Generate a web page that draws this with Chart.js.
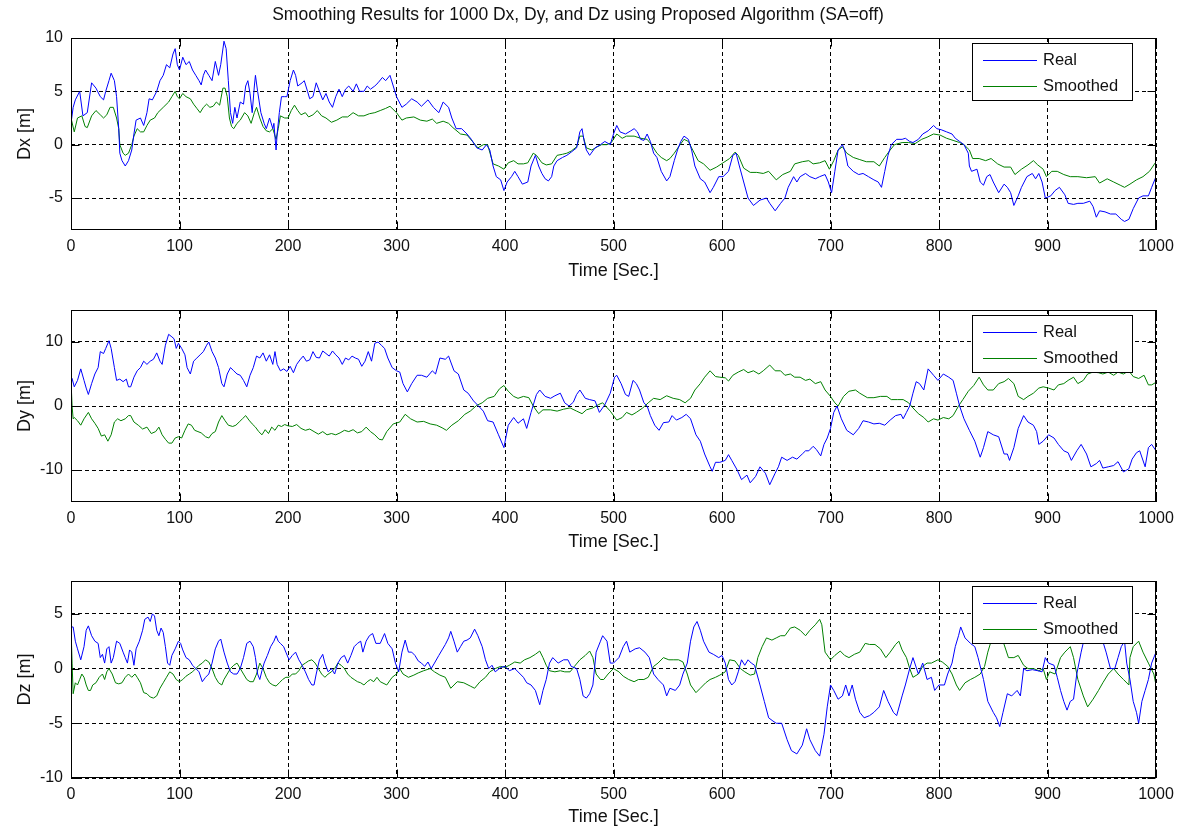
<!DOCTYPE html>
<html>
<head>
<meta charset="utf-8">
<script src="https://cdn.jsdelivr.net/npm/chart.js@4.4.1/dist/chart.umd.min.js"></script>
<style>
  body { margin: 0; background: #fff; }
  canvas { position: absolute; left: 0; }
</style>
</head>
<body>
<canvas id="c1" width="1177" height="290" style="top:0px"></canvas>
<canvas id="c2" width="1177" height="270" style="top:290px"></canvas>
<canvas id="c3" width="1177" height="268" style="top:560px"></canvas>
<script>
// ---------------------------------- data (time [s], value [m]) ----------------------------------
var xTicks = [0, 100, 200, 300, 400, 500, 600, 700, 800, 900, 1000];
var dxTicks = [-5, 0, 5, 10];
var dyTicks = [-10, 0, 10];
var dzTicks = [-10, -5, 0, 5];

var dxReal = [[0,2],[2,3.5],[4,4.2],[8,5],[11,2.7],[15,3],[19,5.8],[23,5.3],[27,4.5],[30,4.2],[32,5],[35,6],[37,6.7],[40,6],[42,4.5],[44,1.5],[45,-0.8],[47,-1.5],[50,-2],[53,-1.5],[56,-0.5],[58,1],[60,2.3],[64,2.5],[67,1.8],[70,3],[72,4.3],[75,4.2],[79,5],[82,6],[85,6.5],[88,7.5],[91,7.2],[94,8.5],[96,9],[98,7.5],[100,7],[103,8.2],[106,7.5],[109,7.8],[112,7],[115,6.5],[118,6],[120,5.6],[122,6.5],[124,7],[127,6.5],[130,6],[133,7.8],[136,6.5],[138,7.5],[141,9.7],[143,9],[145,6],[147,3],[149,2],[151,3.5],[153,2.5],[156,4],[159,3.8],[161,5.5],[163,6],[165,4.8],[167,3],[169,5.5],[170,6.5],[172,5],[175,3],[178,2],[180,1.5],[183,2.5],[186,1.5],[187,2],[189,-0.5],[190,1],[192,3],[194,4.5],[197,4.5],[199,4.5],[202,6],[205,7],[207,6.5],[209,5.5],[213,5.8],[215,6],[218,5],[220,4.3],[223,4.5],[226,5.8],[229,5],[232,4.2],[235,4.8],[238,4],[241,3.5],[244,4.5],[247,5.2],[250,4.5],[253,5.2],[256,5.5],[260,5],[263,5.7],[266,5],[270,5],[273,5.5],[276,5.2],[280,5.5],[283,5.8],[287,6.3],[290,6],[294,6.5],[297,5.5],[300,4.5],[305,3.5],[309,3.8],[314,4.3],[319,4],[323,3.6],[329,4.2],[334,3.5],[339,3],[343,4],[348,3.5],[351,2.5],[355,1.5],[360,1.5],[365,1],[369,0.5],[374,-0.3],[379,-0.5],[383,0],[386,-0.5],[389,-2],[392,-3],[396,-3.3],[399,-4.3],[402,-3.5],[406,-3],[409,-2.5],[412,-3],[416,-3.7],[421,-3.5],[424,-2],[428,-1],[431,-2],[434,-2.7],[437,-3.2],[440,-3.4],[443,-3],[445,-2],[448,-1.5],[453,-1.2],[457,-1],[461,-0.7],[466,-0.3],[469,1.2],[471,1.5],[473,0.3],[475,-0.5],[478,-1],[483,-0.3],[488,0],[492,0.3],[497,0],[500,1],[503,1.8],[506,1.2],[511,1],[516,1.3],[519,1.5],[522,1.2],[525,0.5],[528,0.4],[531,1],[534,0.3],[537,-0.8],[540,-1.2],[544,-2.5],[549,-3.4],[552,-3],[556,-1.5],[559,-0.5],[562,0.3],[565,0.8],[569,0.5],[572,-0.5],[575,-2],[580,-3.2],[584,-3.5],[589,-4.5],[592,-4],[597,-3],[601,-3],[606,-2.5],[610,-1],[613,-0.8],[616,-2],[620,-3.5],[624,-5],[629,-5.7],[635,-5.2],[641,-5],[644,-5.5],[649,-6.2],[654,-5.5],[658,-5],[661,-4],[666,-3],[669,-3.5],[672,-3],[677,-2.7],[681,-3],[686,-3.2],[690,-3],[695,-2.8],[698,-3.5],[701,-4.5],[704,-2.5],[707,-0.5],[711,0],[713,-0.5],[716,-2],[721,-2.5],[726,-2.8],[730,-2.7],[735,-3],[740,-3.3],[744,-3.5],[747,-4],[750,-2.5],[753,-1],[756,0],[761,0.5],[766,0.5],[769,0.6],[773,0.3],[776,0.2],[781,0.5],[785,1],[790,1.3],[795,1.8],[798,1.5],[802,1.4],[807,1.2],[812,1],[815,0.6],[819,0.3],[823,0],[827,-0.8],[828,-2],[830,-2.5],[835,-2.3],[838,-3.5],[841,-3.8],[844,-3],[847,-2.8],[850,-3.5],[855,-4.5],[860,-3.7],[863,-4],[866,-4.5],[869,-5.7],[873,-4.8],[876,-4],[881,-3],[886,-2.7],[889,-3.2],[892,-2.7],[895,-3.5],[898,-5],[903,-4.8],[907,-4.3],[911,-4],[916,-4.7],[919,-5.5],[924,-5.6],[928,-5.5],[933,-5.5],[939,-5.3],[942,-5.8],[945,-6.8],[948,-6.2],[953,-6.3],[958,-6.5],[963,-6.5],[968,-7],[971,-7.2],[975,-7],[979,-6],[984,-5],[988,-4.8],[993,-4.8],[996,-4],[1000,-3]];

var dxSmooth = [[0,2.5],[3,1.2],[6,2.5],[10,2.7],[13,1.7],[15,1.6],[19,2.7],[23,3.2],[27,2.8],[30,2.5],[33,2.8],[36,3.5],[39,3.5],[42,2.5],[44,1.5],[45,0],[48,-0.8],[50,-1],[53,-0.8],[56,0],[58,0.8],[61,1.5],[64,1.2],[67,1.2],[70,1.8],[73,2.3],[77,2.5],[80,3],[85,3.5],[90,4],[93,4.5],[96,5],[98,4.5],[100,4.3],[103,4.8],[106,4.5],[110,4.3],[113,3.8],[116,3.4],[119,3],[122,3.5],[125,3.8],[128,3.5],[131,3.6],[134,4],[137,3.7],[140,5.3],[142,5.3],[144,4.5],[146,2.5],[148,1.7],[150,1.5],[153,2],[156,2.3],[160,3],[163,2.7],[166,2],[169,3],[171,3.5],[174,2.5],[177,1.7],[180,1.3],[183,1.2],[186,1.5],[189,0.5],[191,1.5],[193,2.7],[197,2.5],[200,2.5],[203,3.2],[206,3.7],[209,3.2],[212,2.8],[216,3],[219,2.6],[223,2.8],[227,3.2],[231,2.7],[235,2.5],[240,2.1],[245,2.3],[250,2.6],[255,2.6],[260,3],[265,2.7],[270,2.7],[275,2.9],[280,3],[285,3.2],[290,3.4],[294,3.6],[300,3],[305,2.3],[309,2.5],[316,2.6],[322,2.3],[328,2.2],[333,2.4],[337,2],[343,2.2],[348,2],[352,1.6],[359,1],[365,0.9],[370,0.3],[375,-0.3],[380,0],[384,0],[389,-1.8],[394,-2],[399,-2.3],[403,-1.7],[408,-1.5],[412,-1.8],[417,-1.8],[421,-1.7],[426,-0.8],[429,-1],[434,-1.7],[438,-1.9],[443,-1.8],[448,-1],[453,-0.9],[457,-0.8],[461,-0.6],[466,-0.2],[469,0.8],[472,0.8],[475,-0.3],[480,-0.5],[485,-0.2],[489,0],[494,0],[498,0.2],[503,1],[508,0.6],[512,0.8],[519,0.8],[525,0.6],[531,0.5],[535,0],[540,-0.8],[544,-1.2],[549,-1.5],[552,-1.3],[556,-0.8],[560,-0.2],[565,0.5],[569,0.3],[573,-0.5],[578,-1.5],[583,-1.8],[589,-2.4],[595,-2.1],[601,-1.7],[607,-1.3],[612,-0.7],[615,-1],[620,-2.2],[626,-2.6],[632,-2.6],[638,-2.7],[643,-2.5],[650,-3.3],[656,-2.8],[663,-2.5],[667,-1.8],[674,-1.6],[680,-1.5],[684,-1.8],[690,-1.7],[695,-1.5],[699,-2.3],[703,-1.5],[707,-0.5],[711,-0.2],[715,-0.8],[721,-1.2],[727,-1.4],[733,-1.6],[740,-1.6],[745,-2],[750,-1.2],[755,-0.5],[759,0],[766,0.2],[772,0.2],[778,0.1],[784,0.5],[789,0.7],[795,1],[801,0.9],[807,0.6],[813,0.4],[819,0.2],[823,0],[828,-0.5],[831,-1.3],[837,-1.3],[843,-1.5],[848,-1.3],[854,-1.8],[860,-2.1],[866,-2.1],[870,-2.8],[876,-2.3],[882,-1.9],[887,-1.5],[891,-1.9],[896,-2.3],[899,-3],[904,-2.5],[909,-2.5],[915,-2.8],[921,-3],[928,-3],[936,-3.1],[944,-3],[948,-3.6],[955,-3.2],[961,-3.5],[967,-3.8],[971,-4],[976,-3.7],[982,-3.3],[988,-3],[994,-2.5],[1000,-1.6]];

var dyReal = [[0,4],[1,4.3],[3,3],[6,4],[9,5.8],[12,4],[14,2.8],[16,1.8],[19,3.5],[22,5],[25,6],[27,8.5],[30,8.2],[32,9],[35,10.2],[37,9],[40,6],[42,4],[45,4.2],[48,3.8],[51,4.2],[53,3],[55,3],[58,4.5],[61,5.5],[64,6],[67,7],[70,6.5],[73,7],[76,7.3],[79,8.3],[82,7],[84,6.5],[87,9.5],[90,11.2],[93,10.8],[95,10.5],[97,9],[99,9.8],[102,9],[105,8],[107,6],[110,5],[113,7],[116,7.5],[119,8],[122,8.5],[125,9.5],[127,10],[130,8.5],[133,7.5],[136,6],[139,3.5],[141,3],[144,5],[147,6],[150,5.5],[153,5],[156,4.8],[159,4],[162,3],[165,4.8],[168,6],[171,7.8],[174,7.5],[177,8.3],[180,7],[183,8],[186,6.5],[188,8.5],[190,6.5],[193,5.5],[196,5.8],[199,5.4],[202,6.2],[205,5.2],[208,6.5],[211,7.2],[214,7.8],[217,7],[220,7.2],[223,8.5],[226,7.6],[229,7.5],[232,8.6],[235,8.2],[238,7.8],[241,8.6],[244,8],[247,7.5],[250,6.5],[253,7.5],[256,7.2],[259,7.8],[262,7.5],[265,7.3],[268,6.2],[271,7],[274,8.5],[277,7],[280,9.8],[283,10],[286,9.5],[289,9],[292,7.5],[296,6],[300,5.5],[303,5.3],[306,3.5],[310,2.2],[314,3.5],[319,4.8],[323,4.8],[328,4.5],[333,5.5],[336,5],[340,7.5],[345,7.3],[348,7.8],[353,5.5],[357,5],[362,2.5],[366,2],[371,0.8],[375,0.1],[380,-0.8],[384,-2.3],[389,-2.5],[394,-4.5],[399,-6.5],[403,-3],[408,-1.8],[412,-2.7],[417,-2],[420,-3.5],[424,-1],[429,1.8],[432,2.5],[437,1.5],[442,1.2],[446,1.6],[451,2],[455,0.5],[459,0],[463,0.6],[466,1.8],[469,2.5],[474,1.2],[478,1],[483,0.8],[487,-1],[492,0.2],[497,2],[501,4.5],[503,4.8],[507,3.5],[511,1.8],[514,1.5],[518,4],[521,3.5],[524,2.5],[528,0.5],[531,0],[534,-1.5],[538,-3],[542,-3.8],[546,-2.6],[551,-2.5],[554,-1.5],[558,-2.2],[563,-1.8],[567,-1.3],[571,-2],[576,-4.5],[580,-5.5],[584,-7.5],[589,-9.5],[591,-10.2],[594,-8.8],[598,-8.8],[603,-8.5],[606,-7.6],[609,-8.5],[614,-10],[618,-11.5],[623,-10.8],[626,-12],[631,-11],[635,-9.5],[640,-10.5],[644,-12.3],[649,-10.5],[652,-9.5],[655,-8],[660,-8.5],[665,-8],[669,-8.3],[674,-7.5],[677,-7],[680,-7],[684,-6.3],[687,-6.8],[691,-7.8],[694,-6],[697,-5],[700,-3.5],[703,-1],[706,0],[710,-2],[715,-3.8],[721,-4.5],[726,-3.5],[730,-2.3],[735,-2.5],[740,-2.8],[745,-2.7],[750,-3],[755,-2.2],[760,-1.5],[765,-1.3],[767,-2],[770,-1],[773,0],[776,2],[779,3.8],[782,3.5],[786,2.5],[790,5.8],[795,4.8],[799,4],[804,5],[809,4.5],[813,4],[816,2],[819,0],[823,-2],[828,-3.8],[833,-5.5],[838,-8],[841,-6.5],[845,-4],[850,-4.5],[855,-4.8],[860,-7.5],[863,-7.5],[865,-8.5],[869,-6.5],[873,-3.5],[878,-1.5],[882,-2.5],[887,-3],[890,-4],[892,-6],[896,-5.5],[901,-4.5],[906,-5],[910,-6],[915,-7],[919,-7.3],[922,-8.5],[927,-7],[931,-6],[936,-7.5],[940,-9.5],[945,-9],[948,-8.5],[951,-9.7],[956,-9.5],[961,-9.3],[965,-8.7],[970,-10.3],[975,-9.8],[978,-8.3],[982,-7.3],[985,-7],[990,-9.5],[993,-6.5],[996,-6],[1000,-7]];

var dySmooth = [[0,4],[1,0],[2,-2],[3,-1.8],[6,-2.3],[9,-3],[12,-2],[16,-1],[19,-2],[22,-2.7],[25,-3.5],[28,-4.7],[31,-4.5],[34,-5.5],[37,-4.5],[40,-2.5],[43,-2],[46,-2.3],[50,-2],[53,-1.5],[55,-1.5],[58,-2.5],[62,-3],[66,-3.6],[70,-3.3],[74,-4.3],[78,-4],[81,-3.3],[84,-4.5],[87,-5.2],[90,-5.8],[93,-5.8],[96,-5],[99,-4.8],[102,-5],[105,-3.8],[108,-2.8],[111,-3],[114,-3.8],[117,-4],[120,-4.2],[124,-4.8],[127,-5],[130,-4.3],[133,-4],[136,-2.5],[139,-1.5],[142,-2.3],[145,-3],[149,-3.2],[152,-3],[155,-2.5],[158,-2],[161,-1.5],[164,-2.2],[167,-2.8],[170,-3.3],[173,-4],[176,-4.5],[179,-3.7],[182,-4.3],[185,-3.3],[188,-3.8],[191,-3],[194,-3.2],[197,-2.9],[200,-3.1],[204,-3.2],[208,-2.9],[212,-3.5],[216,-3.8],[220,-3.6],[224,-4],[228,-4.4],[232,-4],[236,-4.5],[240,-4.3],[244,-4.5],[248,-4.2],[252,-3.8],[256,-4],[260,-3.7],[264,-4.2],[268,-4],[272,-3.3],[276,-4],[280,-4.5],[284,-5.2],[287,-5.3],[291,-4],[297,-2.8],[303,-2.5],[308,-1.3],[313,-2],[319,-2.5],[325,-2.4],[331,-2.8],[337,-3],[342,-3.4],[346,-3.8],[351,-3],[357,-2.3],[363,-1.3],[368,-0.8],[374,0.1],[379,0.5],[384,1.2],[390,1.5],[395,2.7],[399,3.2],[403,2.3],[408,1.5],[412,1.2],[417,1.5],[422,1.3],[426,0],[431,-1.2],[435,-0.6],[442,-0.6],[448,-0.8],[454,-0.5],[460,-0.3],[466,-0.8],[471,-1.2],[475,-0.6],[481,-0.3],[486,0.2],[490,0.5],[497,-0.8],[503,-2.2],[508,-1.8],[512,-1],[517,-1.4],[521,-1],[527,-0.3],[532,0.5],[537,1.2],[543,1],[549,1.6],[555,1.2],[561,1],[566,0.5],[571,1.2],[575,2.5],[580,3.5],[584,4.5],[589,5.5],[594,4.6],[598,4.5],[603,4.4],[606,3.9],[610,4.8],[615,5.3],[620,5.7],[624,5.2],[629,5.5],[634,5],[638,5.5],[644,6.4],[649,5.5],[654,5.5],[658,4.8],[663,5],[667,4.5],[672,4.5],[677,4],[681,4.2],[686,3.5],[691,3.8],[695,2.5],[700,1.5],[704,0.5],[707,0],[712,1.5],[717,2.3],[723,2.5],[727,2],[734,1.3],[740,1.3],[746,1.5],[752,1.5],[756,1],[762,1],[767,1],[772,0.5],[776,-0.3],[781,-1.2],[786,-1.8],[790,-2.5],[795,-2],[799,-2.2],[804,-1.8],[809,-2],[813,-1.5],[818,0],[822,1],[827,2.3],[832,3.2],[837,4.5],[841,3.3],[845,2.5],[850,2.5],[855,3.5],[860,3.8],[864,4.3],[869,3.5],[873,1.5],[878,1],[882,1.5],[887,2],[892,2.8],[896,3],[901,2.8],[906,2.5],[910,3.3],[915,3.5],[919,4],[924,4.5],[928,3.5],[933,4],[937,5],[942,5.3],[947,5.2],[951,5],[956,5.3],[961,4.8],[965,5.3],[970,5],[975,5.5],[979,4.6],[984,4.3],[989,4.8],[993,3.3],[996,3.3],[1000,3.7]];

var dzReal = [[0,3.8],[2,3.8],[4,2.5],[6,1.8],[9,0.8],[12,2],[14,3.5],[16,3.9],[19,3],[22,2.5],[25,2.3],[27,1],[29,1.3],[31,0.5],[33,1.8],[35,2],[37,0.5],[39,1],[42,2.5],[45,2.3],[48,1.5],[50,1],[52,0.5],[54,1.7],[56,1.5],[58,0.3],[60,1.8],[63,2.5],[66,3.5],[68,4.5],[71,4.7],[73,4.3],[75,5],[77,4.8],[79,3.5],[81,3],[83,3.7],[85,3.3],[87,2],[89,0.5],[91,0.3],[93,1.2],[96,1.8],[99,2.5],[101,2.3],[103,1.7],[106,1],[109,0.8],[112,0.3],[115,0],[118,-0.3],[121,-1.2],[124,-0.8],[127,-0.5],[130,0.5],[133,1.8],[136,2.5],[138,2.7],[141,1.5],[144,0.5],[147,-0.3],[150,-0.5],[153,-0.5],[156,0],[159,1],[162,2.3],[165,2.5],[168,2],[170,1],[172,-0.5],[174,-1],[176,-0.2],[178,0.5],[181,1.2],[184,2],[187,2.5],[189,3],[191,2.5],[193,2.3],[196,2],[198,1.5],[201,0.8],[204,1.2],[207,1.5],[210,0.8],[213,0.3],[216,-0.3],[219,-1],[222,-1.5],[224,-1.5],[226,-0.5],[229,0.8],[232,1.3],[234,0.5],[237,-0.3],[240,0],[243,-0.5],[246,0.5],[249,1],[252,1.2],[255,0.5],[258,1.2],[261,2],[264,2.3],[267,2.5],[269,1.5],[272,2.5],[275,3],[278,3.2],[281,2.3],[285,2.3],[289,3.2],[292,2.3],[296,1.8],[299,0.5],[302,-0.3],[305,1.5],[308,2.6],[311,1.5],[314,1.5],[317,1.2],[320,0.7],[323,0.5],[326,0.2],[329,0.6],[332,0],[335,0.5],[339,1.2],[342,1.7],[345,2.2],[348,2.8],[350,3.4],[353,2.5],[356,1.5],[359,2],[362,2.5],[365,2.6],[368,2.8],[372,3.6],[375,3],[379,2],[382,0.8],[385,0],[388,0.3],[391,-0.3],[396,0.1],[400,0.2],[404,-0.2],[409,0],[414,-0.5],[417,-0.8],[420,-1.3],[424,-1.5],[428,-2],[432,-3.3],[435,-2],[438,-1],[441,0.5],[444,1],[449,0.5],[454,0.8],[458,0.8],[461,0.2],[466,0],[469,-1],[472,-2.5],[475,-2.7],[478,-2.3],[481,-1.5],[484,1.5],[488,2.5],[490,3],[494,2.5],[497,0.5],[500,0.5],[505,1],[509,2],[512,2.5],[515,1.5],[520,1.8],[524,1.9],[529,1.5],[533,1],[537,-0.5],[541,-1],[546,-1.5],[549,-2.5],[552,-1.8],[557,-2],[561,-1.5],[564,-0.5],[568,0.5],[571,2.5],[574,3.8],[577,4.3],[580,3.5],[583,2.5],[588,1.5],[592,1.3],[597,1],[600,1.2],[603,0.5],[606,-1],[609,-1.5],[612,-1.2],[615,-0.3],[618,0.8],[621,0.3],[624,0.8],[627,0.5],[630,0.3],[635,-1.5],[639,-3],[643,-4.5],[647,-4.8],[650,-5],[655,-5],[660,-6.5],[664,-7.5],[669,-7.8],[674,-7],[678,-5.5],[681,-6.5],[686,-7.5],[690,-8],[694,-6],[697,-3.5],[700,-1.5],[703,-2],[707,-2.8],[711,-2.5],[714,-1.5],[717,-2.5],[720,-1.5],[723,-2.8],[727,-4],[731,-4.5],[736,-4.3],[740,-4],[745,-3.5],[749,-2],[753,-3],[758,-4],[761,-4.3],[766,-2.5],[769,-1.5],[773,0],[776,1],[781,-0.5],[785,0.5],[789,-1],[793,-0.8],[796,-2],[800,-1.5],[805,-1.5],[808,-0.5],[812,0.5],[815,2],[818,3],[820,3.8],[824,2.8],[829,2.3],[833,2],[836,1],[841,-1],[845,-3],[850,-4],[853,-4.5],[856,-5.3],[859,-4],[863,-2.3],[867,-2.5],[872,-2],[875,-2.5],[878,0],[881,-0.2],[886,-0.1],[891,-0.2],[895,-0.3],[898,1],[901,0.5],[906,0.3],[909,-0.8],[912,-2],[915,-3],[918,-3.8],[921,-3],[924,-2.8],[927,-0.5],[931,1.5],[934,2.8],[938,3.2],[942,3],[946,3.5],[950,2.8],[954,1.5],[958,0],[962,0],[965,1],[968,2],[971,2.5],[973,0.5],[976,-1],[979,-3],[982,-4],[984,-5],[987,-3],[990,-2],[993,-1],[996,0.5],[1000,1.5]];

var dzSmooth = [[0,3.8],[1,0.5],[2,-2.3],[4,-1.3],[6,-1.5],[8,-1],[10,-0.5],[12,-0.8],[14,-1.5],[16,-2],[18,-2],[20,-1.5],[23,-1.3],[26,-0.8],[29,-0.5],[31,-1],[33,-0.3],[35,0],[38,-0.5],[41,-1.3],[44,-1.4],[47,-1.3],[50,-0.8],[53,-0.5],[56,-0.8],[59,-0.5],[61,-0.8],[64,-1.3],[67,-2.2],[70,-2.3],[73,-2.6],[76,-2.7],[79,-2.5],[82,-1.8],[85,-1.3],[88,-0.8],[91,-0.3],[94,-0.5],[97,-1],[100,-1.2],[103,-1],[106,-0.7],[109,-0.5],[112,-0.3],[115,0],[118,0.3],[121,0.5],[124,0.8],[127,0.6],[130,0],[133,-0.8],[136,-1.3],[139,-1.5],[141,-1],[144,-0.5],[147,0],[150,0.3],[153,0.5],[156,0],[159,-0.5],[162,-1],[165,-1.2],[168,-1.2],[171,-0.5],[174,0.5],[177,0],[180,-0.8],[183,-1.3],[186,-1.5],[189,-1.6],[192,-1.3],[195,-1],[198,-0.8],[201,-0.8],[204,-0.5],[207,-0.5],[210,-0.2],[213,0.3],[216,0.5],[219,0.7],[222,0.8],[225,0.5],[228,0],[231,-0.5],[234,-0.8],[237,-0.5],[240,-0.3],[243,0],[246,0.5],[249,0.3],[252,0],[255,-0.5],[258,-0.8],[261,-1],[264,-1.2],[267,-1.3],[270,-1.5],[273,-1.2],[276,-1],[279,-1.2],[282,-0.8],[285,-1.2],[291,-1.5],[296,-0.8],[300,-0.5],[303,0],[306,-0.5],[311,-0.8],[316,-0.6],[320,-0.4],[325,-0.2],[331,0],[335,-0.3],[340,-0.6],[345,-0.8],[350,-1.8],[356,-1.2],[362,-1.3],[368,-1.6],[372,-1.8],[377,-1.2],[382,-0.8],[386,-0.3],[391,0],[396,0.2],[400,0.1],[404,0.3],[409,0.6],[414,0.5],[418,0.8],[423,1],[428,1.3],[432,1.6],[435,1],[438,0.3],[441,-0.2],[446,-0.3],[451,-0.2],[455,-0.3],[460,-0.3],[464,0.2],[469,0.8],[474,1.2],[478,1.6],[481,1],[484,-0.5],[488,-1],[491,-1],[495,-0.5],[500,0],[505,-0.3],[509,-0.7],[514,-1],[519,-1.2],[523,-1],[528,-1],[532,-0.8],[537,0.2],[541,0.5],[546,1],[551,0.8],[555,0.8],[560,0.8],[564,0.6],[568,-0.5],[571,-1.5],[576,-2.2],[580,-1.8],[585,-1.3],[589,-1],[594,-0.8],[598,-0.6],[603,-0.3],[607,0.8],[612,0.7],[617,0],[621,-0.3],[626,-0.6],[630,-0.5],[633,1],[637,2],[641,2.8],[646,2.6],[650,2.8],[654,3],[658,3],[663,3.7],[667,3.8],[672,3.5],[677,3],[681,3.5],[686,4],[690,4.5],[692,4],[695,1.5],[700,0.8],[704,1.2],[709,1.6],[713,1.2],[717,1],[722,1.3],[727,1.5],[732,2.3],[736,2.2],[741,2.2],[746,1.8],[751,1],[755,1.5],[760,2.2],[763,2.5],[766,1.7],[770,1],[773,0],[776,-0.8],[781,-0.5],[785,0.2],[789,0.5],[793,0.5],[799,0.8],[803,0.6],[808,0.2],[812,-0.5],[816,-1.5],[819,-2],[824,-1.3],[829,-1],[833,-0.8],[838,-0.5],[842,0.2],[845,1.5],[848,2.5],[853,3],[859,2.5],[864,1],[869,1],[873,1.2],[878,0.3],[882,0],[887,0],[892,-0.2],[896,0],[899,-1],[902,-0.3],[907,-0.5],[912,1],[916,1.5],[921,2],[924,1],[928,-1],[933,-2.5],[937,-3.5],[942,-2.8],[947,-2],[951,-1.3],[956,-0.5],[961,0],[965,-0.5],[970,-1],[975,-1.5],[976,1],[979,2],[984,2.5],[988,1.5],[993,0.5],[998,-0.5],[1000,-1.5]];

// ------------------------------------------------------------------------------------------------
var FONT = "'Liberation Sans', Arial, Helvetica, sans-serif";

// matlab style box: frame, inward tick marks, legend inside upper right
var matlabBox = {
  id: 'matlabBox',
  afterDraw: function (chart) {
    var ctx = chart.ctx, a = chart.chartArea, sx = chart.scales.x, sy = chart.scales.y;
    var L = Math.round(a.left) + 0.5, R = Math.round(a.right) - 0.5;
    var T = Math.round(a.top) + 0.5, B = Math.round(a.bottom) - 0.5;
    ctx.save();
    ctx.setLineDash([]);
    ctx.lineWidth = 1;
    ctx.strokeStyle = '#000';
    ctx.strokeRect(L, T, R - L, B - T);
    ctx.beginPath();
    sx.ticks.forEach(function (t) {
      var x = Math.round(sx.getPixelForValue(t.value)) + 0.5;
      ctx.moveTo(x, B); ctx.lineTo(x, B - 8);
      ctx.moveTo(x, T); ctx.lineTo(x, T + 8);
    });
    sy.ticks.forEach(function (t) {
      var y = Math.round(sy.getPixelForValue(t.value)) + 0.5;
      ctx.moveTo(L, y); ctx.lineTo(L + 8, y);
      ctx.moveTo(R, y); ctx.lineTo(R - 8, y);
    });
    ctx.stroke();

    // legend
    var w = 160, h = 57;
    var bx = Math.round(a.right) - 24 - w, by = Math.round(a.top) + 5;
    ctx.fillStyle = '#fff';
    ctx.fillRect(bx, by, w, h);
    ctx.strokeRect(bx + 0.5, by + 0.5, w, h);
    ctx.font = '16.5px ' + FONT;
    ctx.textBaseline = 'middle';
    chart.data.datasets.forEach(function (ds, i) {
      var y = by + 17 + i * 26 + 0.5;
      ctx.strokeStyle = ds.borderColor;
      ctx.beginPath(); ctx.moveTo(bx + 11, y); ctx.lineTo(bx + 65, y); ctx.stroke();
      ctx.fillStyle = '#111';
      ctx.fillText(ds.label, bx + 71, y);
    });
    ctx.restore();
  }
};

function toXY(arr) {
  return arr.map(function (p) { return { x: p[0], y: p[1] }; });
}

function makePanel(id, real, smooth, yMin, yMax, yTicks, yLabel, padTop, xAxisH, xTitlePad, title) {
  var ctx = document.getElementById(id);
  return new Chart(ctx, {
    type: 'line',
    data: {
      datasets: [
        { label: 'Real', data: toXY(real), borderColor: '#0000ff', borderWidth: 1, pointRadius: 0, tension: 0, fill: false },
        { label: 'Smoothed', data: toXY(smooth), borderColor: '#008000', borderWidth: 1, pointRadius: 0, tension: 0, fill: false }
      ]
    },
    options: {
      responsive: false,
      animation: false,
      devicePixelRatio: 1,
      layout: { padding: { top: padTop, right: 21, left: 0, bottom: 0 } },
      scales: {
        x: {
          type: 'linear', min: 0, max: 1000,
          afterBuildTicks: function (s) { s.ticks = xTicks.map(function (v) { return { value: v }; }); },
          // fixed axis height, and no extra room for the end labels (the layout padding covers it)
          afterFit: function (s) { s.height = xAxisH; s.paddingLeft = 0; s.paddingRight = 0; },
          ticks: { color: '#111', font: { family: FONT, size: 16 }, padding: 7, maxRotation: 0, autoSkip: false,
                   callback: function (v) { return String(v); } },
          grid: { color: '#000', lineWidth: 1, drawTicks: false },
          border: { display: false, dash: [4, 3] },
          title: { display: true, text: 'Time [Sec.]', color: '#111', font: { family: FONT, size: 18 }, padding: { top: 0, bottom: xTitlePad } }
        },
        y: {
          min: yMin, max: yMax,
          afterBuildTicks: function (s) { s.ticks = yTicks.map(function (v) { return { value: v }; }); },
          afterFit: function (s) { s.width = 71; s.paddingTop = 0; s.paddingBottom = 0; },
          ticks: { color: '#111', font: { family: FONT, size: 16 }, padding: 8, autoSkip: false,
                   callback: function (v) { return String(v); } },
          grid: { color: '#000', lineWidth: 1, drawTicks: false },
          border: { display: false, dash: [4, 3] },
          title: { display: true, text: yLabel, color: '#111', font: { family: FONT, size: 18 }, padding: { top: 14, bottom: 0 } }
        }
      },
      plugins: {
        legend: { display: false },
        tooltip: { enabled: false },
        title: {
          display: !!title, text: title || '', color: '#111',
          font: { family: FONT, size: 17.5, weight: 'normal' },
          padding: { top: 5, bottom: 12 }
        }
      }
    },
    plugins: [matlabBox]
  });
}

makePanel('c1', dxReal, dxSmooth, -8, 10, dxTicks, 'Dx [m]', 0, 60, 8,
  'Smoothing Results for 1000 Dx, Dy, and Dz using Proposed Algorithm (SA=off)');
makePanel('c2', dyReal, dySmooth, -15, 15, dyTicks, 'Dy [m]', 20, 58, 7);
makePanel('c3', dzReal, dzSmooth, -10, 8, dzTicks, 'Dz [m]', 21, 50, 0.5);
</script>
</body>
</html>
